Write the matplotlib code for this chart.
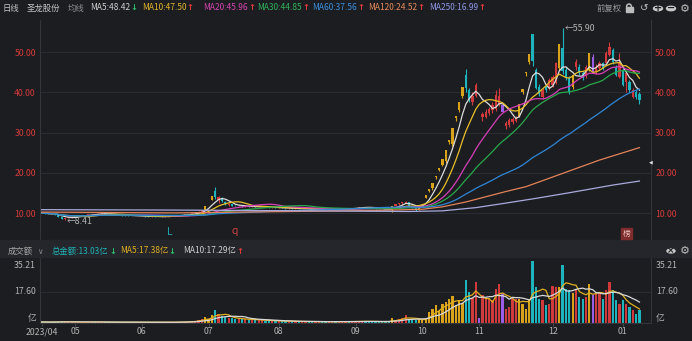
import numpy as np
import pandas as pd
import matplotlib
matplotlib.use("Agg")
import matplotlib.pyplot as plt
from matplotlib.patches import Rectangle, Circle, Arc

plt.rcParams['font.family'] = ['Noto Sans CJK SC', 'DejaVu Sans']

# ---- data (prices in CNY, amount in 亿) ----
month_labels = ['2023/04', '05', '06', '07', '08', '09', '10', '11', '12', '01']
month_days = [10, 20, 20, 21, 23, 20, 17, 22, 21, 6]   # trading days shown per month

opens = [10.10, 10.05, 9.95, 9.90, 9.75, 9.60, 9.00, 8.55, 8.85, 9.00,
         9.10, 9.20, 9.30, 9.45, 9.55, 9.70, 9.80, 9.75, 9.90, 10.00, 9.85, 9.80, 9.70, 9.60, 9.55, 9.50, 9.45, 9.40, 9.35, 9.30,
         9.35, 9.30, 9.25, 9.20, 9.25, 9.15, 9.10, 9.20, 9.25, 9.30, 9.40, 9.45, 9.50, 9.60, 9.70, 9.80, 9.95, 10.10, 10.40, 10.90,
         12.95, 13.30, 15.60, 13.20, 13.80, 12.90, 12.00, 12.30, 11.90, 11.80, 11.90, 11.70, 11.80, 11.60, 11.70, 11.50, 11.60, 11.70, 11.50, 11.40, 11.50,
         11.30, 11.40, 11.30, 11.20, 11.30, 11.10, 11.20, 11.00, 11.10, 11.20, 11.00, 10.90, 11.00, 11.10, 10.90, 10.80, 10.90, 11.00, 10.90, 11.00, 11.10, 11.20, 11.10,
         11.30, 11.35, 11.45, 11.60, 11.50, 11.40, 11.30, 11.20, 11.10, 11.00, 10.90, 10.90, 11.90, 12.20, 12.50, 12.60, 12.80, 11.80, 11.30, 10.95,
         13.20, 13.90, 15.60, 16.20, 19.00, 20.70, 22.00, 22.90, 27.80, 27.20, 33.60, 35.60, 39.00, 44.20, 40.50, 37.50, 39.20,
         37.60, 33.80, 34.00, 34.80, 35.60, 35.80, 37.00, 36.90, 31.60, 31.80, 32.60, 32.90, 34.00, 40.20, 44.70, 47.60, 54.40, 45.50, 41.40, 38.90, 41.40, 41.00,
         41.80, 42.30, 46.00, 51.00, 45.60, 43.50, 41.40, 46.40, 46.40, 44.70, 44.00, 45.60, 48.90, 45.00, 46.00, 47.20, 47.20, 49.30, 50.50, 46.40, 43.90,
         45.50, 42.70, 42.70, 38.90, 40.20, 39.60]

highs = [10.20, 10.10, 10.00, 9.95, 9.80, 9.65, 9.05, 8.95, 9.10, 9.20,
         9.25, 9.35, 9.50, 9.60, 9.75, 9.85, 9.85, 9.95, 10.10, 10.05, 9.90, 9.85, 9.75, 9.65, 9.60, 9.55, 9.50, 9.45, 9.40, 9.40,
         9.40, 9.35, 9.30, 9.30, 9.30, 9.20, 9.25, 9.30, 9.35, 9.45, 9.50, 9.55, 9.65, 9.75, 9.85, 10.00, 10.20, 10.50, 10.80, 11.77,
         12.95, 14.25, 16.40, 14.30, 14.00, 13.10, 12.60, 12.40, 12.00, 12.00, 11.95, 11.90, 11.85, 11.80, 11.75, 11.70, 11.80, 11.75, 11.55, 11.55, 11.55,
         11.45, 11.45, 11.35, 11.35, 11.35, 11.25, 11.25, 11.15, 11.25, 11.25, 11.05, 11.05, 11.15, 11.15, 10.95, 10.95, 11.05, 11.05, 11.05, 11.15, 11.25, 11.25, 11.35,
         11.40, 11.50, 11.65, 11.65, 11.55, 11.45, 11.35, 11.25, 11.15, 11.05, 10.95, 11.88, 12.30, 12.60, 12.80, 12.95, 12.85, 11.90, 11.40, 12.00,
         13.20, 14.50, 16.00, 17.60, 19.35, 21.30, 23.40, 25.70, 28.30, 31.10, 34.20, 37.60, 41.40, 45.70, 41.00, 40.00, 42.30,
         37.60, 35.20, 35.80, 36.40, 37.50, 40.60, 41.00, 37.20, 32.90, 33.60, 33.80, 34.20, 37.20, 40.90, 45.00, 49.50, 54.45, 46.00, 42.00, 41.20, 42.00, 43.50,
         44.40, 47.60, 51.90, 55.90, 46.20, 44.00, 44.20, 48.40, 47.00, 45.30, 46.80, 49.70, 49.50, 47.00, 47.80, 47.60, 50.20, 52.60, 51.00, 46.80, 49.70,
         46.00, 45.20, 43.20, 41.20, 40.60, 40.00]

lows = [9.95, 9.85, 9.80, 9.70, 9.55, 9.00, 8.60, 8.41, 8.80, 8.95,
        9.05, 9.15, 9.25, 9.40, 9.50, 9.65, 9.70, 9.70, 9.85, 9.80, 9.75, 9.65, 9.55, 9.50, 9.45, 9.40, 9.35, 9.30, 9.25, 9.25,
        9.25, 9.20, 9.15, 9.15, 9.10, 9.05, 9.05, 9.15, 9.20, 9.25, 9.35, 9.40, 9.45, 9.55, 9.65, 9.75, 9.90, 10.00, 10.30, 10.80,
        12.95, 13.20, 13.60, 12.60, 12.90, 12.10, 11.90, 11.80, 11.70, 11.75, 11.65, 11.65, 11.55, 11.55, 11.45, 11.45, 11.55, 11.45, 11.35, 11.35, 11.25,
        11.25, 11.25, 11.15, 11.15, 11.05, 11.05, 10.95, 10.95, 11.05, 10.95, 10.85, 10.85, 10.95, 10.85, 10.75, 10.75, 10.85, 10.85, 10.85, 10.95, 11.05, 11.05, 11.05,
        11.20, 11.30, 11.40, 11.45, 11.35, 11.25, 11.15, 11.05, 10.95, 10.85, 10.75, 10.40, 11.80, 12.10, 12.40, 12.50, 11.70, 11.20, 10.50, 10.90,
        13.20, 13.70, 15.30, 15.90, 18.60, 20.40, 21.70, 22.50, 27.20, 26.80, 33.00, 35.20, 38.60, 40.00, 37.50, 36.90, 38.80,
        37.60, 33.00, 33.60, 34.50, 35.00, 35.50, 36.60, 35.10, 31.00, 31.50, 32.20, 32.60, 33.80, 39.60, 44.00, 47.00, 46.50, 40.80, 39.00, 38.40, 40.00, 40.60,
        41.40, 42.00, 45.50, 44.60, 43.00, 39.60, 40.80, 45.60, 44.20, 43.00, 43.60, 45.20, 44.70, 44.50, 45.60, 45.50, 46.80, 49.00, 47.00, 44.00, 43.50,
        41.50, 40.20, 40.20, 38.50, 38.30, 37.00]

closes = [10.05, 9.95, 9.90, 9.75, 9.60, 9.05, 8.70, 8.85, 9.00, 9.10,
          9.20, 9.30, 9.45, 9.55, 9.70, 9.80, 9.75, 9.90, 10.00, 9.85, 9.80, 9.70, 9.60, 9.55, 9.50, 9.45, 9.40, 9.35, 9.30, 9.35,
          9.30, 9.25, 9.20, 9.25, 9.15, 9.10, 9.20, 9.25, 9.30, 9.40, 9.45, 9.50, 9.60, 9.70, 9.80, 9.95, 10.10, 10.40, 10.70, 11.77,
          12.95, 14.25, 14.00, 14.10, 13.00, 12.20, 12.40, 11.90, 11.80, 11.90, 11.70, 11.80, 11.60, 11.70, 11.50, 11.60, 11.70, 11.50, 11.40, 11.50, 11.30,
          11.40, 11.30, 11.20, 11.30, 11.10, 11.20, 11.00, 11.10, 11.20, 11.00, 10.90, 11.00, 11.10, 10.90, 10.80, 10.90, 11.00, 10.90, 11.00, 11.10, 11.20, 11.10, 11.30,
          11.35, 11.45, 11.60, 11.50, 11.40, 11.30, 11.20, 11.10, 11.00, 10.90, 10.80, 11.88, 12.20, 12.50, 12.70, 12.85, 11.80, 11.30, 10.90, 12.00,
          13.20, 14.50, 16.00, 17.60, 19.35, 21.30, 23.40, 25.70, 28.30, 31.10, 34.20, 37.60, 41.40, 41.00, 38.00, 39.20, 41.80,
          37.60, 34.60, 35.20, 35.80, 36.80, 39.30, 39.00, 35.10, 32.30, 33.20, 33.30, 33.80, 37.20, 40.90, 45.00, 49.50, 47.80, 41.20, 39.50, 40.60, 40.60, 43.10,
          43.90, 47.20, 51.90, 45.20, 43.50, 40.20, 44.20, 47.60, 44.70, 43.50, 46.40, 49.70, 44.70, 46.40, 47.20, 46.00, 49.70, 51.30, 47.60, 44.30, 47.20,
          41.80, 44.70, 40.60, 40.60, 38.80, 38.10]

amount = [0.6, 0.5, 0.5, 0.6, 0.7, 0.8, 0.9, 0.7, 0.6, 0.5,
          0.5, 0.5, 0.6, 0.6, 0.7, 0.6, 0.5, 0.6, 0.7, 0.5, 0.4, 0.4, 0.4, 0.5, 0.4, 0.4, 0.4, 0.3, 0.4, 0.4,
          0.4, 0.4, 0.3, 0.4, 0.4, 0.4, 0.4, 0.4, 0.5, 0.5, 0.5, 0.6, 0.6, 0.7, 0.8, 1.0, 1.2, 1.8, 2.4, 3.6,
          2.0, 4.5, 7.6, 5.2, 4.0, 3.4, 2.8, 2.6, 2.4, 2.2, 2.3, 2.0, 1.8, 2.0, 1.7, 1.6, 1.5, 1.4, 1.3, 1.2, 1.2,
          1.1, 1.0, 1.0, 0.9, 0.9, 0.9, 0.8, 0.8, 0.8, 0.9, 0.8, 0.7, 0.8, 0.7, 0.7, 0.7, 0.8, 0.7, 0.7, 0.8, 0.8, 0.9, 0.8,
          0.9, 1.0, 1.1, 0.9, 0.8, 0.8, 0.9, 0.7, 0.7, 0.8, 0.9, 2.6, 1.8, 2.4, 3.0, 4.4, 2.4, 1.8, 1.6, 2.2,
          1.5, 3.0, 6.5, 8.2, 10.0, 7.0, 11.0, 11.9, 13.8, 15.2, 10.5, 12.3, 11.5, 24.6, 17.6, 14.0, 23.3,
          2.7, 15.7, 13.8, 13.8, 12.9, 19.5, 22.4, 16.7, 8.2, 9.1, 13.8, 13.8, 13.8, 11.0, 8.2, 13.8, 35.21, 20.5, 13.8, 12.9, 10.5, 11.0,
          20.8, 20.5, 20.5, 32.8, 19.5, 18.6, 17.1, 19.5, 14.8, 13.8, 15.0, 22.4, 15.7, 16.7, 17.0, 13.8, 18.6, 23.3, 18.6, 13.0, 11.0,
          13.0, 11.0, 9.1, 7.2, 5.3, 7.2]

gold_days = [49, 50, 51, 105, 113, 114, 115, 116, 117, 118, 119, 120, 121, 122,
             123, 124, 125, 126, 143, 144, 145, 146, 155, 159, 164]   # limit-up days
purple_days = [131, 138, 165]                                       # limit-down days

# long averages need history before the window, so read them off the chart
ma120_days = [0, 40, 60, 80, 100, 114, 120, 127, 139, 145, 156, 167, 179]
ma120_vals = [10.3, 10.1, 10.3, 10.5, 10.7, 11.0, 11.6, 12.8, 15.4, 16.6, 19.9, 23.2, 26.3]
ma250_days = [0, 40, 80, 110, 120, 130, 138, 148, 158, 171, 179]
ma250_vals = [10.9, 10.8, 10.6, 10.45, 10.6, 11.4, 12.4, 13.7, 15.1, 17.0, 18.0]

price_ticks = [10, 20, 30, 40, 50]

header_items = [('MA5:48.42', '↓', '#d0d0d0', 90), ('MA10:47.50', '↑', '#e3b52a', 142),
                ('MA20:45.96', '↑', '#d544b0', 203), ('MA30:44.85', '↑', '#2fb35a', 257),
                ('MA60:37.56', '↑', '#3a8fe0', 312), ('MA120:24.52', '↑', '#e88a5a', 368),
                ('MA250:16.99', '↑', '#8f98e8', 429)]
vol_items = [('总金额:13.03亿', '↓', '#1fb5b8', 52), ('MA5:17.38亿', '↓', '#e0b020', 120),
             ('MA10:17.29亿', '↑', '#cfcfcf', 183)]

# ---- styling ----
W, H = 692, 341
BG = '#1c1d21'
BAND = '#25262b'
GRID = '#2b2c31'
EDGE = '#34353a'
RED = '#d03a3d'
CYAN = '#1db4bd'
GOLD = '#d9a21b'
PURPLE = '#9b5de5'
LABEL_RED = '#d43a3a'
GREY = '#b4b4b4'
ICON = '#bcbcbc'
DOWN_ARROW = '#2bbf6a'
UP_ARROW = '#e23b3b'
FS = 6.3
HFS = 6.0

x = np.arange(len(closes))
o = np.array(opens); c = np.array(closes)
hi = np.array(highs); lo = np.array(lows)

colors = []
for i in x:
    if i in gold_days:
        colors.append(GOLD)
    elif i in purple_days:
        colors.append(PURPLE)
    elif c[i] >= o[i]:
        colors.append(RED)
    else:
        colors.append(CYAN)

s = pd.Series(closes)
ma = {n: s.rolling(n, min_periods=1).mean() for n in (5, 10, 20, 30, 60)}
v = pd.Series(amount)
vma5 = v.rolling(5, min_periods=1).mean()
vma10 = v.rolling(10, min_periods=1).mean()

month_pos = np.concatenate([[0], np.cumsum(month_days)[:-1]])


def fx(px):
    return px / W


def fy(py):
    return 1 - py / H


fig = plt.figure(figsize=(W / 100, H / 100), dpi=100, facecolor=BG)


def txt(px, py, t, color, size=FS, ha='left', **kw):
    return fig.text(fx(px), fy(py), t, color=color, fontsize=size, ha=ha, va='center', **kw)


def with_arrow(px, py, label, arrow, col):
    t = txt(px, py, label, col, size=HFS)
    fig.canvas.draw()
    bb = t.get_window_extent()
    fig.text(bb.x1 / W + 0.3 / W, fy(py), arrow, fontsize=HFS, va='center', fontweight='bold',
             color=DOWN_ARROW if arrow == '↓' else UP_ARROW, family='DejaVu Sans')


# volume header band
fig.patches.append(Rectangle((0, fy(257)), 1, (257 - 240) / H, transform=fig.transFigure,
                             color=BAND, zorder=0))

# ---- price panel ----
ax = fig.add_axes([fx(40), fy(240), (651 - 40) / W, 220 / H])
ax.set_facecolor(BG)
ax.set_xlim(-0.48, 182.46)
ax.set_ylim(3.37, 57.97)
for t in price_ticks:
    ax.axhline(t, color=GRID, lw=0.8, zorder=0)

ax.vlines(x, lo, hi, colors=colors, lw=0.8, zorder=2)
body = np.maximum(np.abs(c - o), 0.12)
ax.bar(x, body, bottom=np.minimum(o, c), width=0.68, color=colors, zorder=3)

ax.plot(x, ma[5], color='#dcdcdc', lw=0.9, zorder=4)
ax.plot(x, ma[10], color='#e8c02a', lw=0.9, zorder=4)
ax.plot(x, ma[20], color='#d63fb8', lw=0.9, zorder=4)
ax.plot(x, ma[30], color='#27a84a', lw=0.9, zorder=4)
ax.plot(x, ma[60], color='#2f86d6', lw=0.9, zorder=4)
ax.plot(ma120_days, ma120_vals, color='#e3835a', lw=0.9, zorder=4)
ax.plot(ma250_days, ma250_vals, color='#a9aade', lw=0.9, zorder=4)

imax = int(np.argmax(hi)); imin = int(np.argmin(lo))
ax.text(imax + 0.6, hi[imax], '←%.2f' % hi[imax], color=GREY, fontsize=FS, va='center', ha='left')
ax.text(imin + 0.6, lo[imin] - 0.5, '←%.2f' % lo[imin], color=GREY, fontsize=FS, va='center', ha='left')

ax.set_yticks(price_ticks)
ax.set_yticklabels(['%.2f' % t for t in price_ticks])
ax.tick_params(axis='y', length=0, colors=LABEL_RED, labelsize=FS, labelleft=True,
               labelright=True, pad=3)
ax.set_xticks([])
for side in ('left', 'right', 'bottom'):
    ax.spines[side].set_color(EDGE)
    ax.spines[side].set_linewidth(0.8)
ax.spines['top'].set_visible(False)

# markers under the candles
txt(170, 232, 'L', '#1fa5ad', size=7.5, ha='center')
txt(235, 231, 'q', '#d04040', size=7.5, ha='center')
fig.patches.append(Rectangle((fx(621), fy(239)), 11 / W, 11 / H, transform=fig.transFigure,
                             color='#7e2c2c', zorder=5))
txt(626.5, 233.5, '榜', '#f2c4c4', size=5.5, ha='center', zorder=6)
txt(650.5, 161.5, '◀', '#e0e0e0', size=3.5, ha='center', family='DejaVu Sans')

# ---- volume panel ----
vax = fig.add_axes([fx(40), fy(323), (651 - 40) / W, (323 - 258) / H])
vax.set_facecolor(BG)
vax.set_xlim(-0.48, 182.46)
vax.set_ylim(0, (323 - 258) / 1.761)
vax.axhline(17.60, color=GRID, lw=0.8, zorder=0)
vax.bar(x, amount, width=0.68, color=colors, zorder=2)
vax.plot(x, vma5, color='#e0b020', lw=0.9, zorder=3)
vax.plot(x, vma10, color='#d8d8d8', lw=0.9, zorder=3)
vax.set_yticks([])
vax.set_xticks(month_pos)
vax.set_xticklabels(month_labels)
vax.tick_params(axis='x', length=2.2, width=0.6, color='#505156', labelcolor=GREY,
                labelsize=FS, pad=1)
for side in ('left', 'right', 'bottom'):
    vax.spines[side].set_color(EDGE)
    vax.spines[side].set_linewidth(0.8)
vax.spines['top'].set_visible(False)

for lab, yy in (('35.21', 265), ('17.60', 291.7)):
    txt(36, yy, lab, GREY, ha='right')
    txt(656, yy, lab, GREY)
txt(36, 318.5, '亿', GREY, ha='right')
txt(656, 318.5, '亿', GREY)

# ---- header rows ----
txt(3, 8, '日线', '#c4c4c4', size=HFS)
txt(27, 8, '圣龙股份', '#c4c4c4', size=HFS)
txt(68, 8, '均线', '#8c8c8c', size=HFS)
for label, arrow, col, px in header_items:
    with_arrow(px, 8, label, arrow, col)
txt(597, 8, '前复权', '#9a9a9a', size=HFS)

# lock icon drawn as shapes
fig.patches.append(Rectangle((fx(625.5), fy(12)), 7 / W, 5 / H, transform=fig.transFigure,
                             color=ICON, zorder=5))
fig.patches.append(Arc((fx(629), fy(7)), 5 / W, 6 / H, theta1=0, theta2=180,
                       transform=fig.transFigure, color=ICON, lw=1.1, zorder=5))
txt(644, 8.5, '↺', ICON, size=7.5, ha='center', family='DejaVu Sans')
for cx in (658, 671):
    fig.patches.append(Circle((fx(cx), fy(8.5)), 4.5 / W, transform=fig.transFigure,
                              color='#c8c8c8', zorder=5))
txt(658, 8.3, '+', BG, size=7, ha='center', fontweight='bold', family='DejaVu Sans', zorder=6)
txt(671, 8.3, '−', BG, size=7, ha='center', fontweight='bold', family='DejaVu Sans', zorder=6)
txt(685, 8.5, '⚙', ICON, size=8, ha='center', family='DejaVu Sans')

txt(8, 251, '成交额', '#a8a8a8', size=HFS)
txt(37, 251, '∨', '#8a8a8a', size=5.5, family='DejaVu Sans')
for label, arrow, col, px in vol_items:
    with_arrow(px, 251, label, arrow, col)
fig.patches.append(Circle((fx(671), fy(251)), 4 / W, transform=fig.transFigure,
                          color='#c8c8c8', zorder=5))
txt(671, 250.8, '×', BG, size=6.5, ha='center', fontweight='bold', family='DejaVu Sans', zorder=6)
txt(685, 251, '⚙', ICON, size=8, ha='center', family='DejaVu Sans')

fig.savefig('out.png', dpi=100, facecolor=BG)
